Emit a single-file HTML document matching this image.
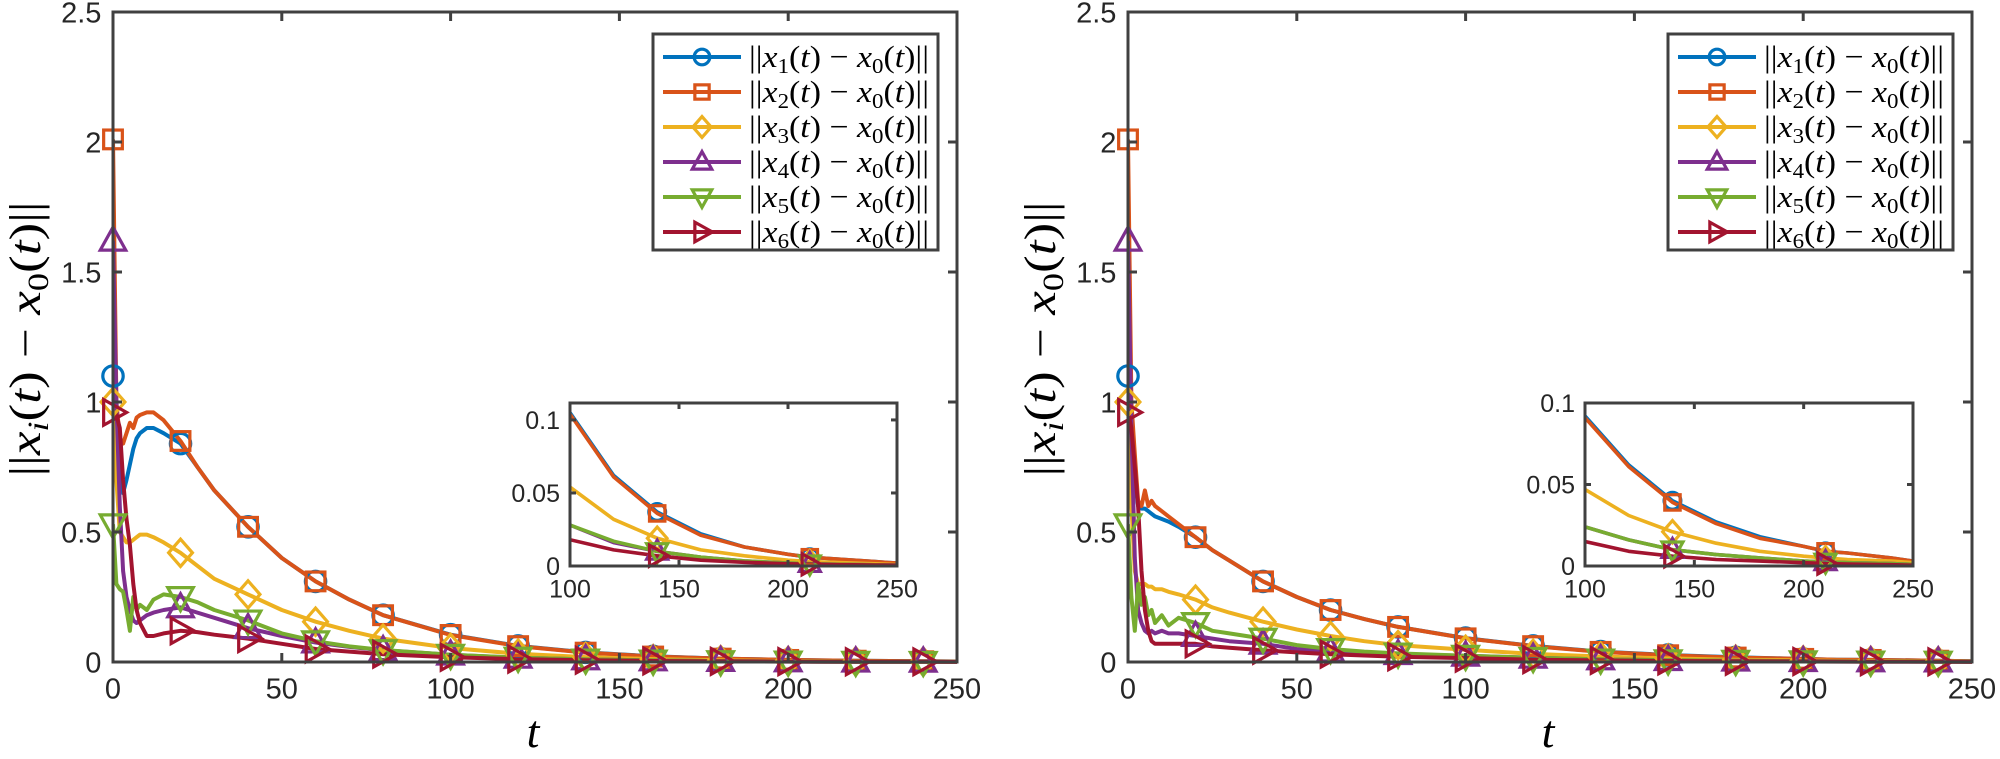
<!DOCTYPE html>
<html><head><meta charset="utf-8"><style>
html,body{margin:0;padding:0;background:#fff;}
svg{display:block;font-family:"Liberation Sans",sans-serif;}
</style></head><body>
<svg id="fig" width="2000" height="759" viewBox="0 0 2000 759" xmlns="http://www.w3.org/2000/svg"></svg>
<script>
const tGrid = [0,1,2,3,4,5,6,7,8,10,12,15,20,25,30,40,50,60,70,80,100,120,140,160,180,200,210,220,240,250];
const seriesLabels = ["1","2","3","4","5","6"];
const L1 = [1.1,1.0,0.75,0.65,0.7,0.76,0.82,0.86,0.88,0.9,0.9,0.88,0.84,0.75,0.66,0.52,0.40,0.31,0.24,0.18,0.105,0.062,0.037,0.022,0.013,0.008,0.006,0.005,0.003,0.002];
const L2 = [2.01,1.0,0.86,0.84,0.88,0.92,0.9,0.94,0.95,0.96,0.96,0.93,0.85,0.75,0.66,0.52,0.40,0.31,0.24,0.18,0.104,0.061,0.036,0.021,0.013,0.008,0.006,0.005,0.003,0.002];
const L3 = [1.0,0.7,0.5,0.48,0.46,0.46,0.47,0.48,0.49,0.49,0.48,0.46,0.42,0.37,0.32,0.26,0.20,0.155,0.12,0.09,0.054,0.032,0.019,0.011,0.007,0.004,0.003,0.0025,0.0015,0.001];
const L4 = [1.62,1.0,0.6,0.35,0.25,0.2,0.16,0.15,0.16,0.18,0.19,0.2,0.21,0.19,0.17,0.13,0.1,0.075,0.058,0.045,0.028,0.016,0.01,0.006,0.0035,0.002,0.0016,0.0012,0.0008,0.0006];
const L5 = [0.53,0.3,0.28,0.27,0.2,0.12,0.25,0.2,0.22,0.2,0.24,0.26,0.25,0.23,0.2,0.16,0.11,0.08,0.06,0.046,0.028,0.017,0.01,0.006,0.0035,0.002,0.0016,0.0012,0.0008,0.0006];
const L6 = [0.96,0.95,0.9,0.7,0.55,0.45,0.3,0.2,0.15,0.1,0.1,0.11,0.12,0.115,0.105,0.09,0.07,0.05,0.04,0.03,0.018,0.011,0.007,0.004,0.0025,0.0015,0.0012,0.001,0.0007,0.0005];
const R1 = [1.1,0.9,0.7,0.6,0.59,0.59,0.58,0.57,0.56,0.55,0.54,0.52,0.48,0.43,0.39,0.31,0.25,0.2,0.165,0.135,0.092,0.062,0.04,0.027,0.018,0.012,0.009,0.008,0.005,0.003];
const R2 = [2.01,1.0,0.8,0.62,0.6,0.66,0.6,0.62,0.6,0.58,0.56,0.53,0.48,0.43,0.39,0.31,0.25,0.2,0.165,0.135,0.091,0.061,0.039,0.026,0.017,0.012,0.009,0.008,0.005,0.003];
const R3 = [1.0,0.6,0.35,0.3,0.3,0.3,0.29,0.29,0.28,0.28,0.27,0.26,0.24,0.21,0.19,0.155,0.125,0.1,0.08,0.065,0.047,0.031,0.021,0.014,0.009,0.006,0.005,0.004,0.003,0.002];
const R4 = [1.62,0.9,0.4,0.2,0.15,0.12,0.11,0.12,0.11,0.12,0.11,0.11,0.1,0.09,0.08,0.07,0.05,0.04,0.035,0.03,0.024,0.016,0.01,0.007,0.005,0.003,0.0025,0.002,0.0015,0.001];
const R5 = [0.53,0.25,0.12,0.3,0.22,0.25,0.18,0.2,0.15,0.18,0.14,0.17,0.15,0.12,0.11,0.09,0.065,0.05,0.04,0.033,0.024,0.016,0.01,0.007,0.005,0.003,0.0025,0.002,0.0015,0.001];
const R6 = [0.96,0.9,0.75,0.6,0.35,0.2,0.12,0.08,0.07,0.07,0.07,0.07,0.07,0.06,0.055,0.045,0.037,0.03,0.025,0.02,0.015,0.009,0.006,0.004,0.003,0.002,0.0015,0.0012,0.0008,0.0005];
const mainXTicks = [0,50,100,150,200,250];
const mainXTickLabels = ["0","50","100","150","200","250"];
const mainYTicks = [0,0.5,1,1.5,2,2.5];
const mainYTickLabels = ["0","0.5","1","1.5","2","2.5"];
const insetXTicks = [100,150,200,250];
const insetXTickLabels = ["100","150","200","250"];
const insetYTicks = [0,0.05,0.1];
const insetYTickLabels = ["0","0.05","0.1"];
const mainMarkerT = [0,20,40,60,80,100,120,140,160,180,200,220,240];
const insetMarkerT = [140,210];

const colors = ["#0072BD","#D95319","#EDB120","#7E2F8E","#77AC30","#A2142F"];
const markerTypes = ["circle","square","diamond","up","down","right"];
const NS = "http://www.w3.org/2000/svg";
const svg = document.getElementById("fig");
function mk(tag, attrs, parent){
  const e = document.createElementNS(NS, tag);
  for (const k in attrs) e.setAttribute(k, attrs[k]);
  (parent||svg).appendChild(e);
  return e;
}
function interp(t, data){
  for (let i=0;i<tGrid.length-1;i++){
    if (t>=tGrid[i] && t<=tGrid[i+1]){
      const f=(t-tGrid[i])/(tGrid[i+1]-tGrid[i]);
      return data[i]+f*(data[i+1]-data[i]);
    }
  }
  return data[data.length-1];
}
function marker(g, type, cx, cy, s, color){
  const a = {fill:"none", stroke:color, "stroke-width":3.2};
  let e;
  if (type==="circle") e = mk("circle", Object.assign({cx:cx,cy:cy,r:s*0.6}, a), g);
  else if (type==="square") e = mk("rect", Object.assign({x:cx-s*0.55,y:cy-s*0.55,width:s*1.1,height:s*1.1}, a), g);
  else {
    let p;
    if (type==="diamond") p=[[cx,cy-s*0.8],[cx+s*0.7,cy],[cx,cy+s*0.8],[cx-s*0.7,cy]];
    else if (type==="up") p=[[cx,cy-s*0.8],[cx+s*0.75,cy+s*0.55],[cx-s*0.75,cy+s*0.55]];
    else if (type==="down") p=[[cx,cy+s*0.8],[cx+s*0.75,cy-s*0.55],[cx-s*0.75,cy-s*0.55]];
    else p=[[cx+s*0.8,cy],[cx-s*0.55,cy-s*0.75],[cx-s*0.55,cy+s*0.75]];
    e = mk("polygon", Object.assign({points:p.map(q=>q.join(",")).join(" ")}, a), g);
  }
  
  
  return e;
}
let clipId = 0;
function drawAxes(cfg){
  const {x0,x1,y0,y1,xmin,xmax,ymin,ymax,series,xt,xtl,yt,ytl,mT,fs,ms,lw,name,tick} = cfg;
  const X = v => x0 + (v-xmin)/(xmax-xmin)*(x1-x0);
  const Y = v => y1 - (v-ymin)/(ymax-ymin)*(y1-y0);
  const g = mk("g", {});
  
  
  mk("rect",{x:x0,y:y0,width:x1-x0,height:y1-y0,fill:"#fff"},g);
  const cid = "clip"+(clipId++);
  const cp = mk("clipPath",{id:cid},g);
  mk("rect",{x:x0,y:y0-2,width:x1-x0,height:y1-y0+4},cp);
  const pg = mk("g",{"clip-path":"url(#"+cid+")"},g);
  series.forEach((data,si)=>{
    const pts = tGrid.map((t,i)=>X(t).toFixed(1)+","+Y(data[i]).toFixed(1)).join(" ");
    const pl = mk("polyline",{points:pts,fill:"none",stroke:colors[si],"stroke-width":lw,"stroke-linejoin":"round"},pg);
    
    
  });
  const mg = mk("g",{},g);
  series.forEach((data,si)=>{
    mT.forEach(t=>{ if (t>=xmin && t<=xmax) marker(mg, markerTypes[si], X(t), Y(interp(t,data)), ms, colors[si]); });
  });
  const ax = "#404040";
  mk("rect",{x:x0,y:y0,width:x1-x0,height:y1-y0,fill:"none",stroke:ax,"stroke-width":3},g);
  xt.forEach((v,i)=>{
    mk("line",{x1:X(v),x2:X(v),y1:y1,y2:y1-tick,stroke:ax,"stroke-width":3},g);
    mk("line",{x1:X(v),x2:X(v),y1:y0,y2:y0+tick,stroke:ax,"stroke-width":3},g);
    const tx = mk("text",{x:X(v),y:y1+fs*1.25,"font-size":fs,"text-anchor":"middle",fill:"#262626"},g);
    tx.textContent = xtl[i];
    
    
  });
  yt.forEach((v,i)=>{
    mk("line",{x1:x0,x2:x0+tick,y1:Y(v),y2:Y(v),stroke:ax,"stroke-width":3},g);
    mk("line",{x1:x1,x2:x1-tick,y1:Y(v),y2:Y(v),stroke:ax,"stroke-width":3},g);
    const tx = mk("text",{x:x0-fs*0.4,y:Y(v)+fs*0.36,"font-size":fs,"text-anchor":"end",fill:"#262626"},g);
    tx.textContent = ytl[i];
    
    
  });
}
function legend(lx, ly, side){
  const g = mk("g",{});
  
  
  mk("rect",{x:lx,y:ly,width:285,height:216,fill:"#fff",stroke:"#404040","stroke-width":3},g);
  for (let i=0;i<6;i++){
    const cy = ly + 23 + i*35;
    const eg = mk("g",{},g);
    
    
    mk("line",{x1:lx+10,x2:lx+88,y1:cy,y2:cy,stroke:colors[i],"stroke-width":4},eg);
    marker(eg, markerTypes[i], lx+49, cy, 13, colors[i]);
    const tx = mk("text",{x:lx+96,y:cy+10,"font-size":31,"font-family":"Liberation Serif, serif",fill:"#000",textLength:180,lengthAdjust:"spacingAndGlyphs"},eg);
    tx.innerHTML = '||<tspan font-style="italic">x</tspan><tspan font-size="21" dy="6">'+seriesLabels[i]+'</tspan><tspan dy="-6">(</tspan><tspan font-style="italic">t</tspan>) − <tspan font-style="italic">x</tspan><tspan font-size="21" dy="6">0</tspan><tspan dy="-6">(</tspan><tspan font-style="italic">t</tspan>)||';
  }
}
function labels(xc, yc, xl){
  const yl = mk("text",{x:0,y:0,"font-size":44,"font-family":"Liberation Serif, serif","text-anchor":"middle",transform:"translate("+xc+","+yc+") rotate(-90)",textLength:275,lengthAdjust:"spacingAndGlyphs"});
  yl.innerHTML = '||<tspan font-style="italic">x</tspan><tspan font-style="italic" font-size="30" dy="8">i</tspan><tspan dy="-8">(</tspan><tspan font-style="italic">t</tspan>) − <tspan font-style="italic">x</tspan><tspan font-size="30" dy="8">0</tspan><tspan dy="-8">(</tspan><tspan font-style="italic">t</tspan>)||';
  
  
  const xt = mk("text",{x:xl,y:747,"font-size":46,"font-family":"Liberation Serif, serif","font-style":"italic","text-anchor":"middle"});
  xt.textContent = "t";
  
  
}
const Ls = [L1,L2,L3,L4,L5,L6], Rs = [R1,R2,R3,R4,R5,R6];
drawAxes({x0:113,x1:957,y0:12,y1:662,xmin:0,xmax:250,ymin:0,ymax:2.5,series:Ls,xt:mainXTicks,xtl:mainXTickLabels,yt:mainYTicks,ytl:mainYTickLabels,mT:mainMarkerT,fs:29,ms:17,lw:4,name:"left-main-axes",tick:9});
legend(653,34,"left");
drawAxes({x0:570,x1:897,y0:403,y1:566,xmin:100,xmax:250,ymin:0,ymax:0.1116,series:Ls,xt:insetXTicks,xtl:insetXTickLabels,yt:insetYTicks,ytl:insetYTickLabels,mT:insetMarkerT,fs:25,ms:14,lw:3.6,name:"left-inset-axes",tick:6});
labels(40,339,533);
drawAxes({x0:1128,x1:1972,y0:12,y1:662,xmin:0,xmax:250,ymin:0,ymax:2.5,series:Rs,xt:mainXTicks,xtl:mainXTickLabels,yt:mainYTicks,ytl:mainYTickLabels,mT:mainMarkerT,fs:29,ms:17,lw:4,name:"right-main-axes",tick:9});
legend(1668,34,"right");
drawAxes({x0:1585,x1:1913,y0:403,y1:566,xmin:100,xmax:250,ymin:0,ymax:0.1,series:Rs,xt:insetXTicks,xtl:insetXTickLabels,yt:insetYTicks,ytl:insetYTickLabels,mT:insetMarkerT,fs:25,ms:14,lw:3.6,name:"right-inset-axes",tick:6});
labels(1055,339,1548);
</script>
</body></html>
